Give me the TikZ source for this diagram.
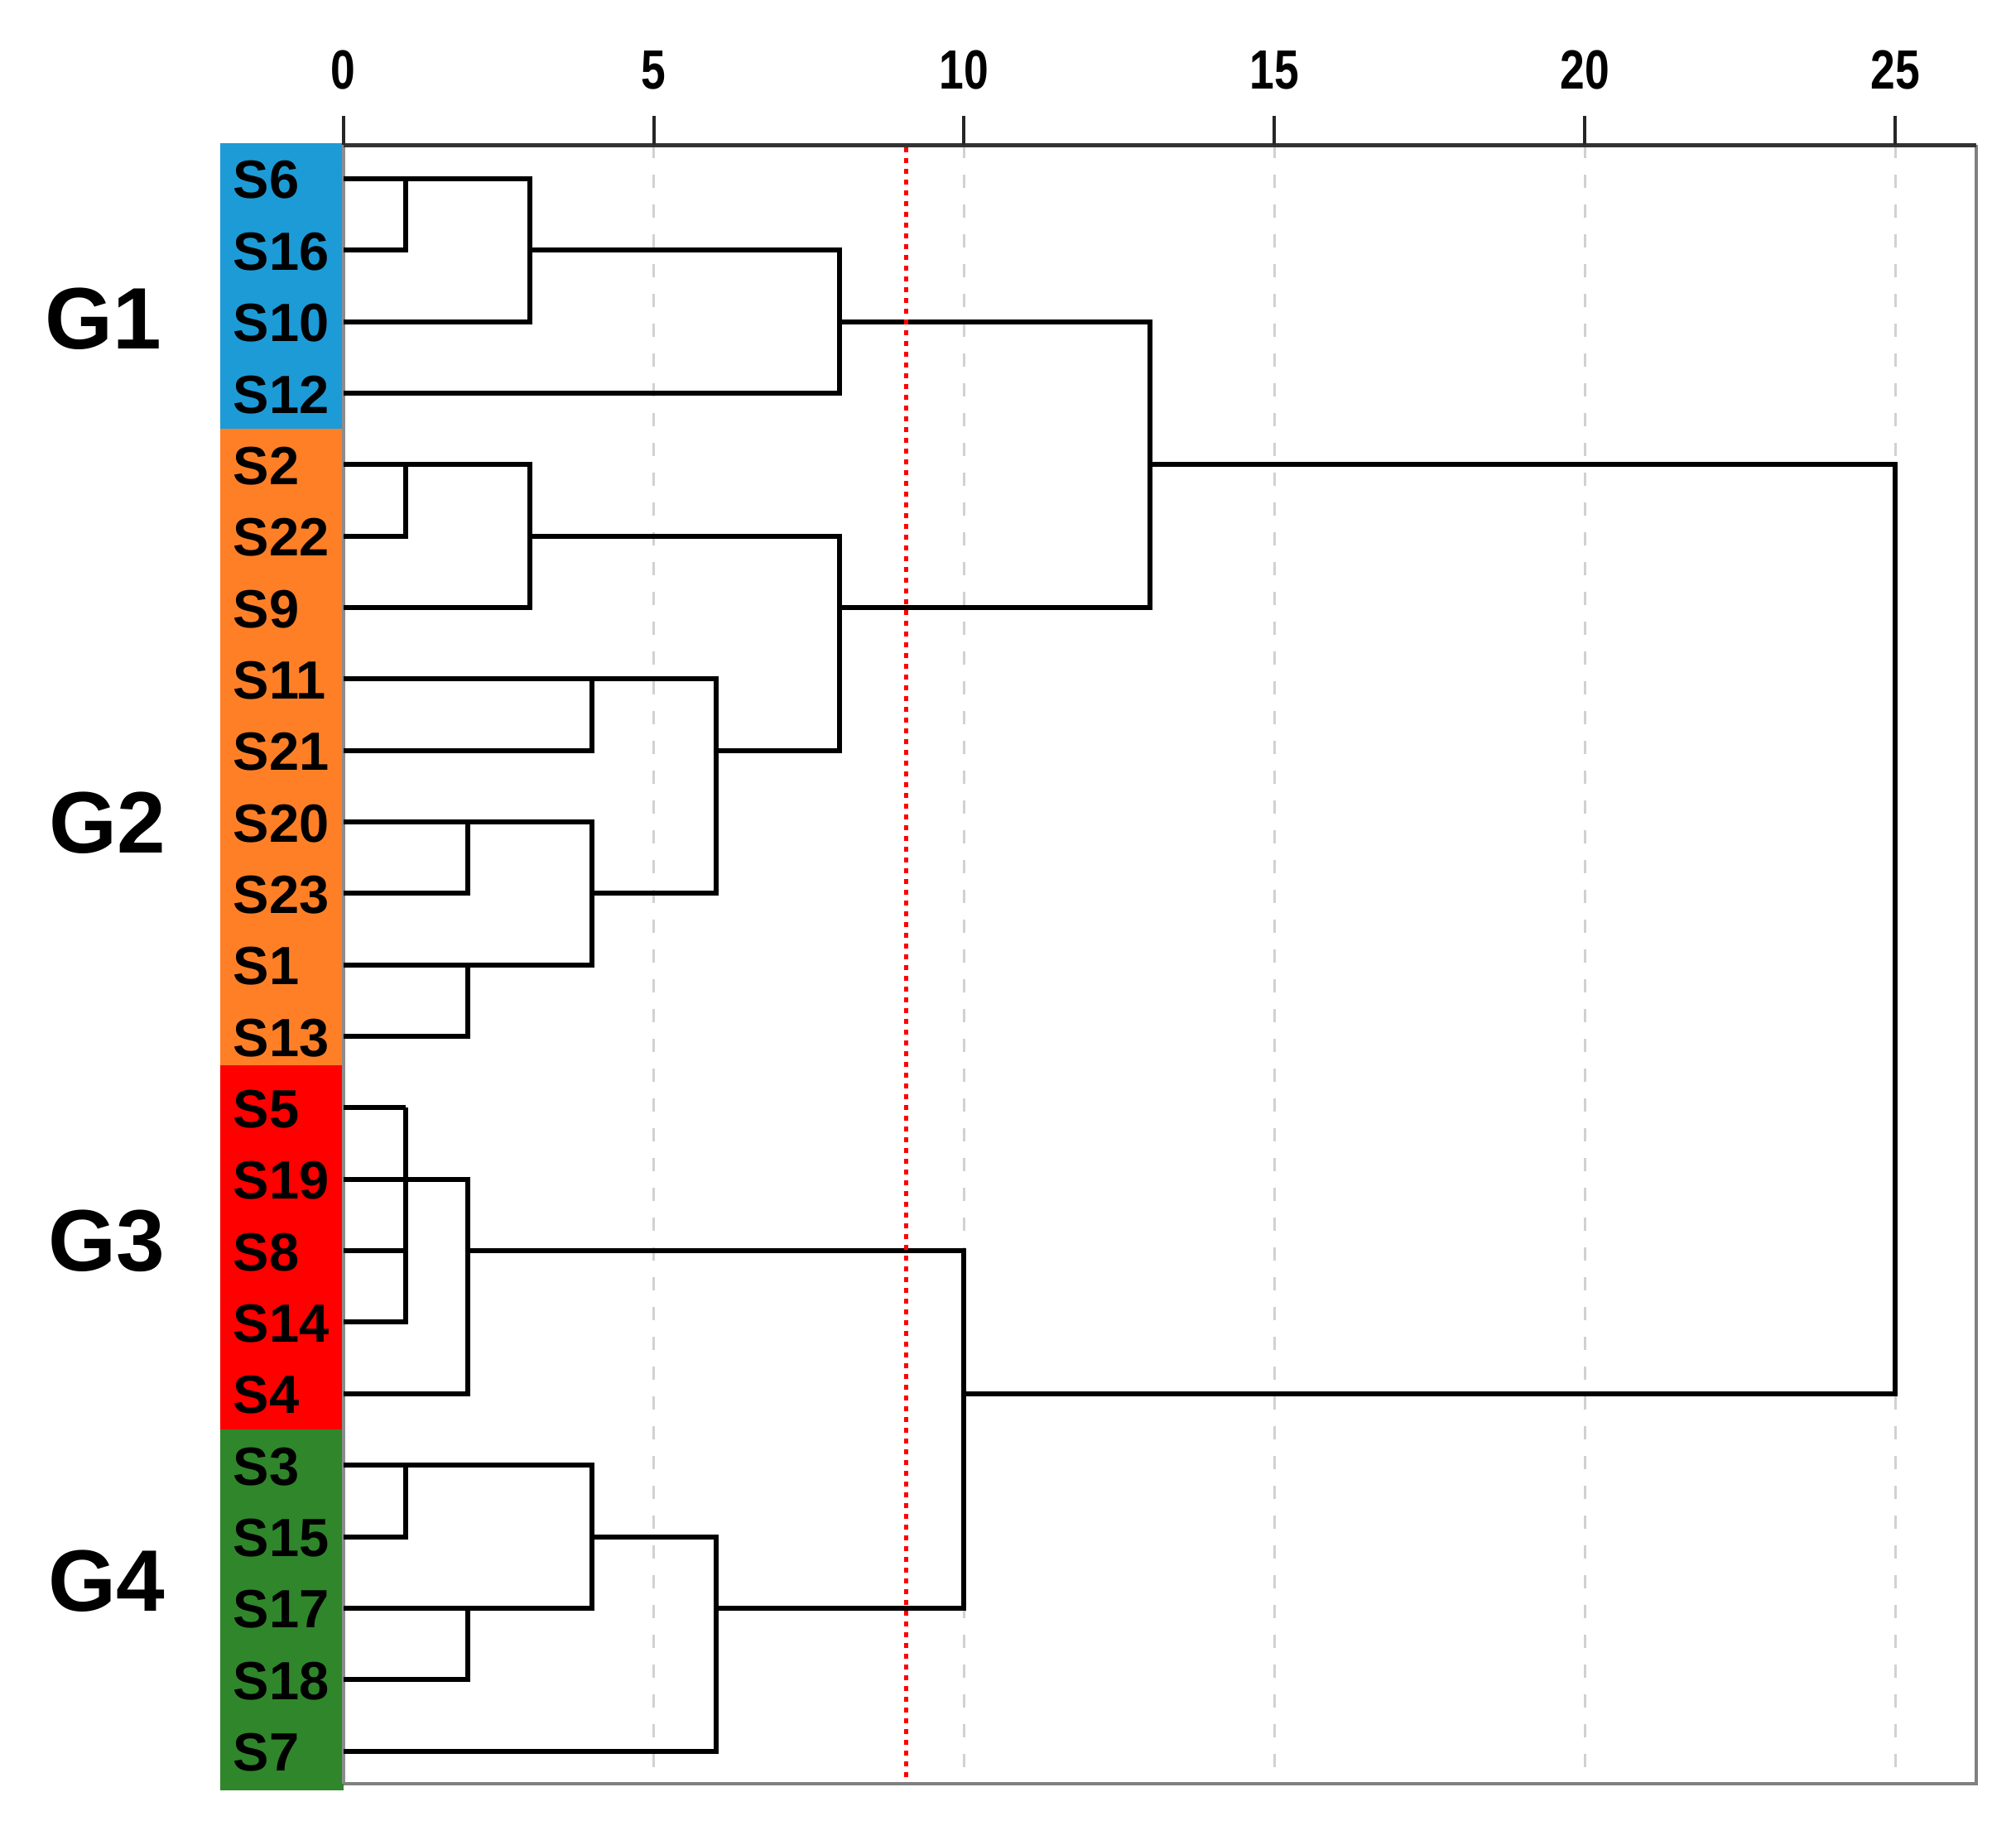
\documentclass[tikz,border=0pt]{standalone}
\usepackage{fontspec}
\setmainfont{Liberation Sans}
\definecolor{gblue}{HTML}{1C9BD7}
\definecolor{gorange}{HTML}{FF7F27}
\definecolor{gred}{HTML}{FF0000}
\definecolor{ggreen}{HTML}{30862B}
\tikzset{
  branch/.style={line width=0.06cm, black, line join=miter},
  gridline/.style={line width=0.03cm, black!18, dash pattern=on 0.16cm off 0.2cm},
  cutline/.style={line width=0.05cm, red, dash pattern=on 0.06cm off 0.07cm},
  tickmark/.style={line width=0.04cm, black!85},
  ticklabel/.style={inner sep=0pt, xscale=0.8, font=\fontsize{19}{21}\selectfont\bfseries},
  leaflabel/.style={anchor=west, inner sep=0pt, font=\fontsize{18.5}{20}\selectfont\bfseries},
  grouplabel/.style={anchor=west, inner sep=0pt, font=\fontsize{30}{32}\selectfont\bfseries}
}
\begin{document}
\begin{tikzpicture}[x=0.7498cm, y=-0.8635cm]
\useasboundingbox (-5.530,-2.500) rectangle (26.946,23.244);
% group colour bar
\fill [gblue] (-1.987,-0.5) rectangle (0,3.5);
\fill [gorange] (-1.987,3.5) rectangle (0,12.4);
\fill [gred] (-1.987,12.4) rectangle (0,17.5);
\fill [ggreen] (-1.987,17.5) rectangle (0,22.55);
% group names
\node [grouplabel] (g1) at (-4.81,1.96) {G1};
\node [grouplabel] (g2) at (-4.74,9.01) {G2};
\node [grouplabel] (g3) at (-4.76,14.86) {G3};
\node [grouplabel] (g4) at (-4.76,19.62) {G4};
% frame and scale
\draw [line width=0.04cm, black!45] (0,-0.47) -- (0,22.46);
\foreach \v in {5,10,15,20,25}
  \draw [gridline] (\v,-0.47) -- (\v,22.46);
\draw [line width=0.04cm, black!50] (26.306,-0.47) -- (26.306,22.46) -- (0,22.46);
\draw [line width=0.045cm, black!80] (0,-0.47) -- (26.306,-0.47);
\foreach \v in {0,5,10,15,20,25} {
  \draw [tickmark] (\v,-0.881) -- (\v,-0.47);
  \node [ticklabel] (t\v) at (\v,-1.516) {\v};
}
% leaves
\foreach \name/\row in {S6/0,S16/1,S10/2,S12/3,S2/4,S22/5,S9/6,S11/7,S21/8,S20/9,
    S23/10,S1/11,S13/12,S5/13,S19/14,S8/15,S14/16,S4/17,S3/18,S15/19,S17/20,S18/21,S7/22} {
  \coordinate (\name) at (0,\row);
  \node [leaflabel] (l\name) at (-1.78,\row+0.02) {\name};
}
% merge points
\foreach \name/\x/\row in {m1/1/0,m2/3/1,m3/8/2,m4/1/4,m5/3/5,m6/4/7,m7/2/9,m8/2/11,
    m9/4/10,m10/6/8,m11/8/6,m12/13/4,m13/1/13,m14/1/15,m15/1/14,m16/2/15,m17/1/18,
    m18/2/20,m19/4/19,m20/6/20,m21/10/17,root/25/10}
  \coordinate (\name) at (\x,\row);
% dendrogram
\foreach \a/\b in {S6/m1,S16/m1,m1/m2,S10/m2,m2/m3,S12/m3,
    S2/m4,S22/m4,m4/m5,S9/m5,S11/m6,S21/m6,S20/m7,S23/m7,S1/m8,S13/m8,
    m7/m9,m8/m9,m6/m10,m9/m10,m5/m11,m10/m11,m3/m12,m11/m12,
    S5/m13,S19/m13,S8/m14,S14/m14,m13/m15,m14/m15,m15/m16,S4/m16,
    S3/m17,S15/m17,S17/m18,S18/m18,m17/m19,m18/m19,m19/m20,S7/m20,
    m16/m21,m20/m21,m12/root,m21/root}
  \draw [branch] (\a) -| (\b);
% cut level
\draw [cutline] (9.07,-0.44) -- (9.07,22.42);
\end{tikzpicture}
\end{document}
